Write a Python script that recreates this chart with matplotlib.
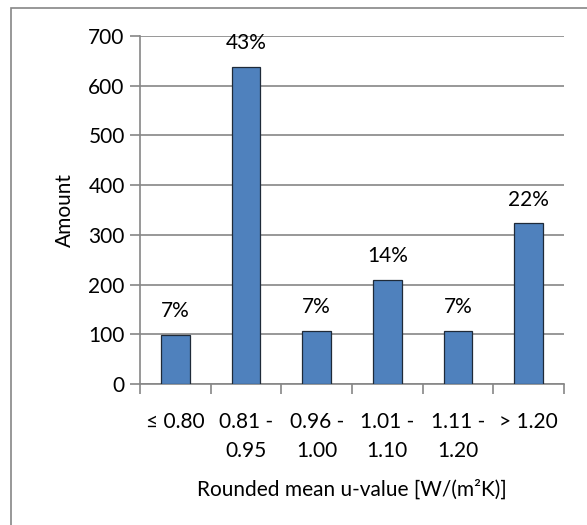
import matplotlib
matplotlib.use("Agg")
import matplotlib.pyplot as plt
from matplotlib.patches import Rectangle

categories = ["\u2264 0.80", "0.81 -\n0.95", "0.96 -\n1.00", "1.01 -\n1.10", "1.11 -\n1.20", "> 1.20"]
amounts = [99, 638, 107, 209, 107, 323]
percents = ["7%", "43%", "7%", "14%", "7%", "22%"]

plt.rcParams["font.family"] = ["Lato", "DejaVu Sans"]
FS = 15

fig = plt.figure(figsize=(5.87, 5.25), dpi=100)
ax = fig.add_axes([140 / 587, 1 - 384 / 525, 424 / 587, 348 / 525])

# outer chart frame (cropped on right/bottom)
fig.patches.append(Rectangle((11 / 587, -0.1), 1.2, 1 - 8 / 525 + 0.1,
                             transform=fig.transFigure, fill=False,
                             edgecolor="#868686", lw=1.2))

x = range(len(categories))
ax.bar(x, amounts, width=0.41, color="#4F81BD", edgecolor="#1F2A38", lw=0.9, zorder=3)
for i, (v, p) in enumerate(zip(amounts, percents)):
    ax.text(i, v + 48, p, ha="center", va="center", fontsize=FS)

ax.set_xlim(-0.5, len(categories) - 0.5)
ax.set_ylim(0, 700)
ax.set_yticks(range(0, 701, 100))
ax.set_xticks([i - 0.5 for i in range(len(categories) + 1)], minor=False)
ax.set_xticklabels([])
ax.set_xticks(list(x), minor=True)
ax.set_xticklabels(categories, minor=True, fontsize=FS, linespacing=1.6)
ax.tick_params(axis="x", which="minor", length=0, pad=20)
ax.tick_params(axis="x", which="major", length=7, color="#868686", width=1.2)
ax.tick_params(axis="y", length=7, color="#868686", width=1.2, labelsize=FS, pad=4)

ax.grid(axis="y", color="#868686", lw=1.2, zorder=0)
for s in ["top", "right"]:
    ax.spines[s].set_visible(False)
for s in ["left", "bottom"]:
    ax.spines[s].set_color("#868686")
    ax.spines[s].set_linewidth(1.2)

ax.set_ylabel("Amount", fontsize=FS, labelpad=10)
ax.set_xlabel("Rounded mean u-value [W/(m\u00b2K)]", fontsize=FS, labelpad=13)

fig.savefig("out.png", dpi=100)
